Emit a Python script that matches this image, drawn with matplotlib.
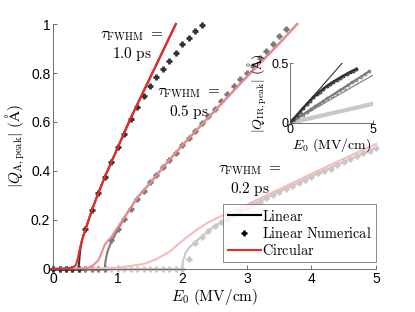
import numpy as np
import matplotlib.pyplot as plt

plt.rcParams['mathtext.fontset'] = 'cm'
plt.rcParams['font.family'] = ['Liberation Sans', 'DejaVu Sans']

# tau = 1.0 ps
e_lin10 = [0, 0.39, 0.40, 0.42, 0.45, 0.5, 0.6, 0.7, 0.8, 0.9, 1.0, 1.1, 1.2, 1.3, 1.4, 1.5, 1.6, 1.7, 1.8, 1.9]
q_lin10 = [0, 0, 0.02, 0.08, 0.12, 0.16, 0.24, 0.31, 0.375, 0.435, 0.495, 0.555, 0.615, 0.67, 0.725, 0.78, 0.835, 0.89, 0.945, 1.0]
e_cir10 = [0, 0.2, 0.3, 0.35, 0.38, 0.42, 0.45, 0.5, 0.6, 0.7, 0.8, 0.9, 1.0, 1.1, 1.2, 1.3, 1.4, 1.5, 1.6, 1.7, 1.8, 1.9]
q_cir10 = [0, 0.002, 0.006, 0.015, 0.04, 0.09, 0.12, 0.16, 0.24, 0.31, 0.375, 0.435, 0.495, 0.555, 0.615, 0.67, 0.725, 0.78, 0.835, 0.89, 0.945, 1.0]
e_num10 = [0, 0.1, 0.2, 0.3, 0.4, 0.5, 0.6, 0.7, 0.8, 0.9, 1.0, 1.1, 1.2, 1.3, 1.4, 1.5, 1.6, 1.7, 1.8, 1.9, 2.0, 2.1, 2.2, 2.3]
q_num10 = [0, 0, 0, 0, 0, 0.163, 0.24, 0.31, 0.374, 0.435, 0.496, 0.552, 0.614, 0.663, 0.707, 0.747, 0.783,
           0.815, 0.848, 0.88, 0.917, 0.944, 0.971, 0.996]

# tau = 0.5 ps
e_lin05 = [0, 0.8, 0.81, 0.84, 0.9, 1.0, 1.14, 1.3, 1.5, 1.75, 2.0, 2.5, 3.0, 3.5, 3.78]
q_lin05 = [0, 0, 0.03, 0.07, 0.11, 0.16, 0.225, 0.29, 0.35, 0.43, 0.505, 0.645, 0.785, 0.92, 1.0]
e_cir05 = [0, 0.4, 0.55, 0.62, 0.7, 0.75, 0.8, 0.9, 1.0, 1.14, 1.3, 1.5, 1.75, 2.0, 2.5, 3.0, 3.5, 3.78]
q_cir05 = [0, 0.001, 0.005, 0.015, 0.035, 0.065, 0.1, 0.13, 0.17, 0.225, 0.29, 0.35, 0.43, 0.505, 0.645, 0.785, 0.92, 1.0]
e_num05 = [0, 0.1, 0.2, 0.3, 0.4, 0.5, 0.6, 0.7, 0.8, 0.9, 1.0, 1.1, 1.2, 1.3, 1.4, 1.5, 1.6, 1.7, 1.8, 1.9,
           2.0, 2.1, 2.2, 2.3, 2.4, 2.5, 2.6, 2.7, 2.8, 2.9, 3.0, 3.1, 3.2, 3.3, 3.4, 3.5, 3.6]
q_num05 = [0, 0, 0, 0, 0, 0, 0, 0, 0, 0.12, 0.165, 0.205, 0.245, 0.285, 0.32, 0.355, 0.385, 0.415, 0.445, 0.475,
           0.505, 0.535, 0.565, 0.595, 0.625, 0.655, 0.685, 0.715, 0.745, 0.775, 0.80, 0.83, 0.86, 0.89, 0.92, 0.95, 0.978]

# tau = 0.2 ps
e_lin02 = [0, 2.0, 2.01, 2.05, 2.1, 2.2, 2.5, 3.0, 3.5, 4.0, 4.5, 5.0]
q_lin02 = [0, 0, 0.03, 0.065, 0.085, 0.11, 0.175, 0.25, 0.315, 0.377, 0.437, 0.495]
e_cir02 = [0, 0.5, 1.0, 1.4, 1.6, 1.8, 2.0, 2.2, 2.4, 2.6, 2.8, 3.0, 3.5, 4.0, 4.5, 5.0]
q_cir02 = [0, 0.001, 0.005, 0.02, 0.04, 0.07, 0.115, 0.155, 0.19, 0.215, 0.24, 0.262, 0.325, 0.388, 0.45, 0.51]
e_num02 = [0, 0.1, 0.2, 0.3, 0.4, 0.5, 0.6, 0.7, 0.8, 0.9, 1.0, 1.1, 1.2, 1.3, 1.4, 1.5, 1.6, 1.7, 1.8, 1.9,
           2.0, 2.1, 2.2, 2.3, 2.4, 2.5, 2.6, 2.7, 2.8, 2.9, 3.0, 3.1, 3.2, 3.3, 3.4, 3.5, 3.6, 3.7, 3.8, 3.9,
           4.0, 4.1, 4.2, 4.3, 4.4, 4.5, 4.6, 4.7, 4.8, 4.9, 5.0]
q_num02 = [0] * 21 + [0.04, 0.105, 0.13, 0.155, 0.175, 0.19, 0.205, 0.22, 0.235, 0.25, 0.262, 0.275, 0.288, 0.30,
                      0.315, 0.327, 0.34, 0.352, 0.365, 0.377, 0.39, 0.40, 0.41, 0.425, 0.437, 0.448, 0.46, 0.472,
                      0.483, 0.495]

# inset (IR mode)
e_ir_lin10 = [0, 3.2]
q_ir_lin10 = [0, 0.51]
e_ir_lin05 = [0, 5.0]
q_ir_lin05 = [0, 0.40]
e_ir_lin02 = [0, 5.0]
q_ir_lin02 = [0, 0.16]
e_ir_num10 = [0, 0.2, 0.4, 0.6, 0.8, 1.0, 1.2, 1.4, 1.6, 1.8, 2.0, 2.2, 2.4, 2.6, 2.8, 3.0, 3.2, 3.4, 3.6, 3.8, 4.0]
q_ir_num10 = [0, 0.032, 0.063, 0.095, 0.126, 0.157, 0.186, 0.213, 0.238, 0.262, 0.285, 0.305, 0.325, 0.343,
              0.36, 0.377, 0.393, 0.408, 0.422, 0.437, 0.45]
e_ir_num05 = [0, 0.25, 0.5, 0.75, 1.0, 1.25, 1.5, 1.75, 2.0, 2.25, 2.5, 2.75, 3.0, 3.25, 3.5, 3.75, 4.0, 4.25,
              4.5, 4.75]
q_ir_num05 = [0, 0.023, 0.046, 0.069, 0.092, 0.115, 0.138, 0.16, 0.183, 0.205, 0.228, 0.25, 0.273, 0.295, 0.318,
              0.34, 0.362, 0.385, 0.407, 0.43]

dark = '#333333'
mid = '#7a7a7a'
light = '#c8c8c8'
red1 = '#f02828'
red2 = '#f28b8b'
red3 = '#f9b9b9'

fig = plt.figure(figsize=(4.15, 3.12), dpi=100)
ax = fig.add_axes([0.128, 0.138, 0.778, 0.785])

pm = dict(ls='none', marker='+', ms=5, mew=2, clip_on=False)
ax.plot(e_num02, q_num02, color=light, **pm)
ax.plot(e_num05, q_num05, color=mid, **pm)
ax.plot(e_num10, q_num10, color=dark, **pm)

lk = dict(lw=1.5, clip_on=False)
ax.plot(e_lin02, q_lin02, color=light, **lk)
ax.plot(e_lin05, q_lin05, color=mid, **lk)
ax.plot(e_lin10, q_lin10, color=dark, **lk)
ax.plot(e_cir02, q_cir02, color=red3, **lk)
ax.plot(e_cir05, q_cir05, color=red2, **lk)
ax.plot(e_cir10, q_cir10, color=red1, **lk)

ax.set_xlim(0, 5)
ax.set_ylim(0, 1)
ax.set_xticks([0, 1, 2, 3, 4, 5])
ax.set_yticks([0, 0.2, 0.4, 0.6, 0.8, 1])
ax.set_yticklabels(['0', '0.2', '0.4', '0.6', '0.8', '1'])
ax.tick_params(direction='in', length=3, width=0.6, labelsize=10, color='#555555', pad=2)
for s in ['top', 'right']:
    ax.spines[s].set_visible(False)
for s in ['left', 'bottom']:
    ax.spines[s].set_linewidth(0.6)
    ax.spines[s].set_color('#555555')
ax.set_xlabel(r'$E_0\ \mathrm{(MV/cm)}$', fontsize=11, labelpad=1)
ax.set_ylabel(r'$|Q_{\mathrm{A,peak}}|\ (\mathrm{\AA})$', fontsize=11, labelpad=3)

tk = dict(ha='center', va='center', fontsize=11, multialignment='center')
ax.text(1.22, 0.91, r'$\tau_{\mathrm{FWHM}}\ =$' + '\n' + r'$\mathrm{1.0\ ps}$', **tk)
ax.text(2.1, 0.675, r'$\tau_{\mathrm{FWHM}}\ =$' + '\n' + r'$\mathrm{0.5\ ps}$', **tk)
ax.text(3.05, 0.36, r'$\tau_{\mathrm{FWHM}}\ =$' + '\n' + r'$\mathrm{0.2\ ps}$', **tk)

h1, = ax.plot([], [], color='black', lw=1.5)
h2, = ax.plot([], [], color='black', ls='none', marker='+', ms=4, mew=1.8)
h3, = ax.plot([], [], color=red1, lw=1.5)
leg = ax.legend([h1, h2, h3], [r'$\mathrm{Linear}$', r'$\mathrm{Linear\ Numerical}$', r'$\mathrm{Circular}$'],
                loc='lower right', bbox_to_anchor=(1.0, 0.028), fontsize=10.3, fancybox=False,
                handlelength=2.3, handletextpad=0.1, borderpad=0.3, labelspacing=0.15, borderaxespad=0)
leg.get_frame().set_edgecolor('#555555')
leg.get_frame().set_linewidth(0.6)

# inset
ins = fig.add_axes([0.699, 0.606, 0.2, 0.192])
ins.plot(e_ir_lin02, q_ir_lin02, color=light, lw=3)
ins.plot(e_ir_num05, q_ir_num05, color=mid, ls='-', marker='o', ms=2, lw=1.5, mfc='none', mew=0.7)
ins.plot(e_ir_lin05, q_ir_lin05, color=mid, lw=0.8)
ins.plot(e_ir_num10, q_ir_num10, color=dark, ls='-', marker='o', ms=2, lw=1.8, mfc='none', mew=0.8)
ins.plot(e_ir_lin10, q_ir_lin10, color=dark, lw=0.8)
ins.set_xlim(0, 5)
ins.set_ylim(0, 0.5)
ins.set_xticks([0, 5])
ins.set_yticks([0, 0.5])
ins.set_yticklabels(['0', '0.5'])
ins.tick_params(direction='in', length=2, width=0.6, labelsize=9, color='#555555', pad=1)
for s in ['top', 'right']:
    ins.spines[s].set_visible(False)
for s in ['left', 'bottom']:
    ins.spines[s].set_linewidth(0.6)
    ins.spines[s].set_color('#555555')
ins.set_xlabel(r'$E_0\ \mathrm{(MV/cm)}$', fontsize=10, labelpad=0)
ins.set_ylabel(r'$|Q_{\mathrm{IR,peak}}|\ (\mathrm{\AA})$', fontsize=10, labelpad=2)
ins.patch.set_alpha(0)

fig.savefig('out.png', dpi=100)
